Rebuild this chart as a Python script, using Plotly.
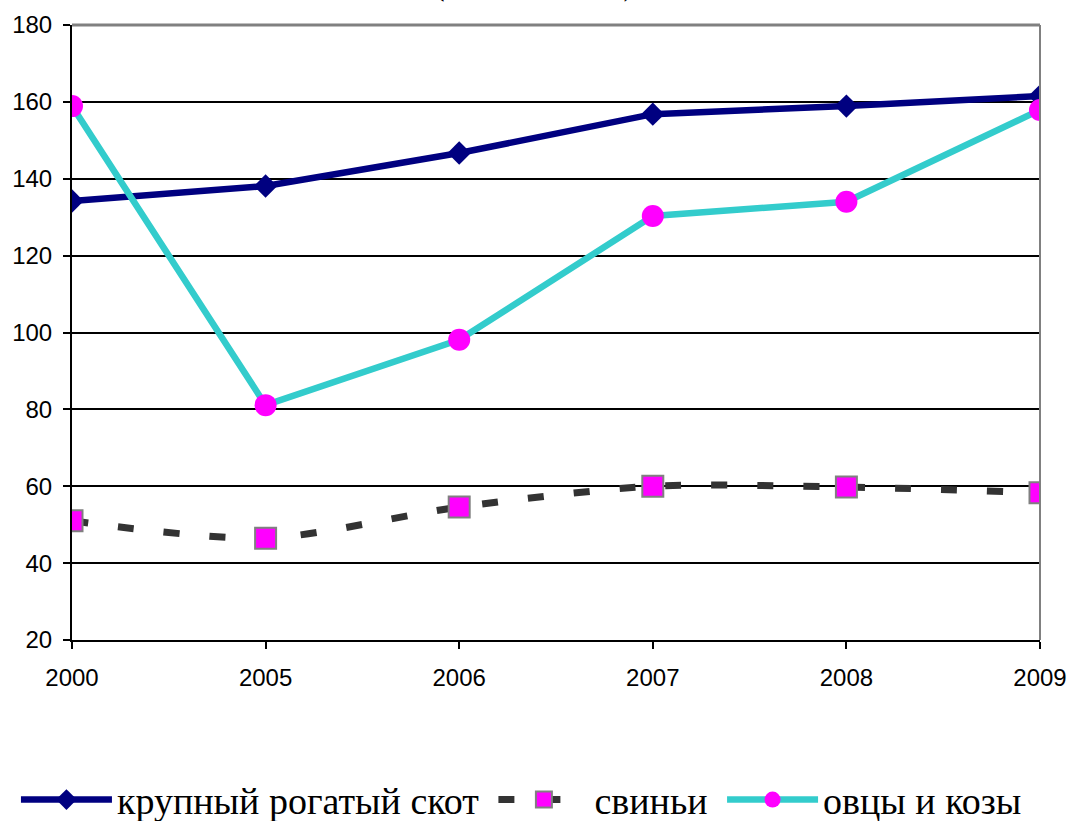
import plotly.graph_objects as go

years = ["2000", "2005", "2006", "2007", "2008", "2009"]
cattle = [134.2, 138.1, 146.7, 156.8, 158.9, 161.5]
pigs = [51.0, 46.5, 54.6, 60.0, 59.8, 58.3]
sheep = [158.9, 81.1, 98.1, 130.3, 134.0, 157.9]
names = ["крупный рогатый скот", "свиньи", "овцы и козы"]
y_ticks = [20, 40, 60, 80, 100, 120, 140, 160, 180]

fig = go.Figure()
fig.add_trace(go.Scatter(
    x=years, y=cattle, name=names[0] + " ", mode="lines+markers",
    line=dict(color="#000080", width=6.5),
    marker=dict(symbol="diamond", size=18, color="#000080"),
))
fig.add_trace(go.Scatter(
    x=years, y=pigs, name=names[1] + " ", mode="lines+markers",
    line=dict(color="#333333", width=7, dash="16px,30px", shape="spline", smoothing=0.8),
    marker=dict(symbol="square", size=21, color="#FF00FF",
                line=dict(color="#808080", width=2)),
))
fig.add_trace(go.Scatter(
    x=years, y=sheep, name=names[2], mode="lines+markers",
    line=dict(color="#33CCCC", width=6.5),
    marker=dict(symbol="circle", size=22, color="#FF00FF"),
))

fig.update_layout(
    width=1070, height=821,
    paper_bgcolor="white", plot_bgcolor="white",
    margin=dict(l=72, r=30, t=25, b=181, autoexpand=False),
    font=dict(family="Liberation Sans, Arial", size=24, color="black"),
    showlegend=True,
    legend=dict(
        orientation="h", x=-0.0579, xanchor="left",
        y=-0.26, yanchor="middle",
        font=dict(family="Liberation Serif, Times New Roman", size=38, color="black"),
        itemwidth=91, tracegroupgap=0, itemsizing="trace",
    ),
    xaxis=dict(
        type="category", range=[0, 5], showgrid=False, automargin=False,
        showline=True, linecolor="black", linewidth=2,
        ticks="outside", ticklen=7, tickcolor="black", tickwidth=2,
        tickfont=dict(size=24), zeroline=False, ticklabelstandoff=8,
    ),
    yaxis=dict(
        range=[20, 180], tickvals=y_ticks, showgrid=True, automargin=False,
        gridcolor="black", gridwidth=1.5,
        showline=True, linecolor="black", linewidth=2,
        ticks="outside", ticklen=7, tickcolor="black", tickwidth=2,
        tickfont=dict(size=24), zeroline=False, ticklabelstandoff=6,
    ),
    shapes=[
        dict(type="line", xref="paper", yref="paper", x0=0, x1=1, y0=1, y1=1,
             line=dict(color="#808080", width=3)),
        dict(type="line", xref="paper", yref="paper", x0=1, x1=1, y0=0, y1=1,
             line=dict(color="#808080", width=2)),
    ],
    annotations=[
        dict(text="(тысяч голов)", xref="paper", yref="paper", x=0.477, y=1,
             xanchor="center", yanchor="bottom", yshift=21, showarrow=False,
             font=dict(family="Liberation Serif, Times New Roman", size=35)),
    ],
)

fig.write_html("out.html", config={"displayModeBar": False},
               post_script="document.body.style.margin='0px';")
